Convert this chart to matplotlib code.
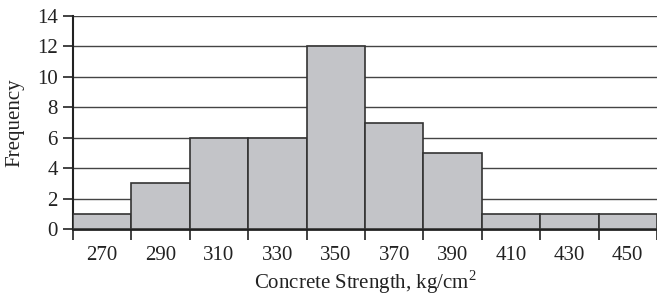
import matplotlib.pyplot as plt
from matplotlib.ticker import FixedLocator

# Concrete strength histogram data
bin_centers = [270, 290, 310, 330, 350, 370, 390, 410, 430, 450]
frequency = [1, 3, 6, 6, 12, 7, 5, 1, 1, 1]
bin_width = 20
y_ticks = [0, 2, 4, 6, 8, 10, 12, 14]

plt.rcParams["font.family"] = ["Liberation Serif", "DejaVu Serif"]
plt.rcParams["mathtext.fontset"] = "custom"
plt.rcParams["mathtext.rm"] = "Liberation Serif"

fig = plt.figure(figsize=(6.57, 3.0), dpi=100)
ax = fig.add_axes([73 / 657, 1 - 229 / 300, 1 - 73 / 657, (229 - 16) / 300])

ax.bar(bin_centers, frequency, width=bin_width, color="#c3c4c8",
       edgecolor="#333333", linewidth=1.2, zorder=3)

lo = bin_centers[0] - bin_width / 2
hi = bin_centers[-1] + bin_width / 2
ax.set_xlim(lo, hi)
ax.set_ylim(0, 14)

ax.set_yticks(y_ticks)
ax.yaxis.grid(True, color="#444444", linewidth=1.0, zorder=0)
ax.set_axisbelow(True)

ax.set_xticks(bin_centers)
ax.set_xticklabels([str(c) for c in bin_centers])
edges = [lo + i * bin_width for i in range(len(bin_centers) + 1)]
ax.xaxis.set_minor_locator(FixedLocator(edges))
ax.tick_params(axis="x", which="major", length=0, pad=12, labelsize=15, colors="#222222")
ax.tick_params(axis="x", which="minor", length=8, width=1.2, direction="out", color="#222222")
ax.tick_params(axis="y", length=7, width=1.2, direction="out", labelsize=15,
               colors="#222222", pad=4)

for side in ["top", "right"]:
    ax.spines[side].set_visible(False)
ax.spines["left"].set_linewidth(1.5)
ax.spines["bottom"].set_linewidth(2.0)
ax.spines["left"].set_color("#222222")
ax.spines["bottom"].set_color("#222222")

ax.set_ylabel("Frequency", fontsize=15, color="#222222", labelpad=9)
ax.set_xlabel("Concrete Strength, kg/cm$^2$", fontsize=15, color="#222222", labelpad=3)

fig.savefig("out.png", dpi=100)
